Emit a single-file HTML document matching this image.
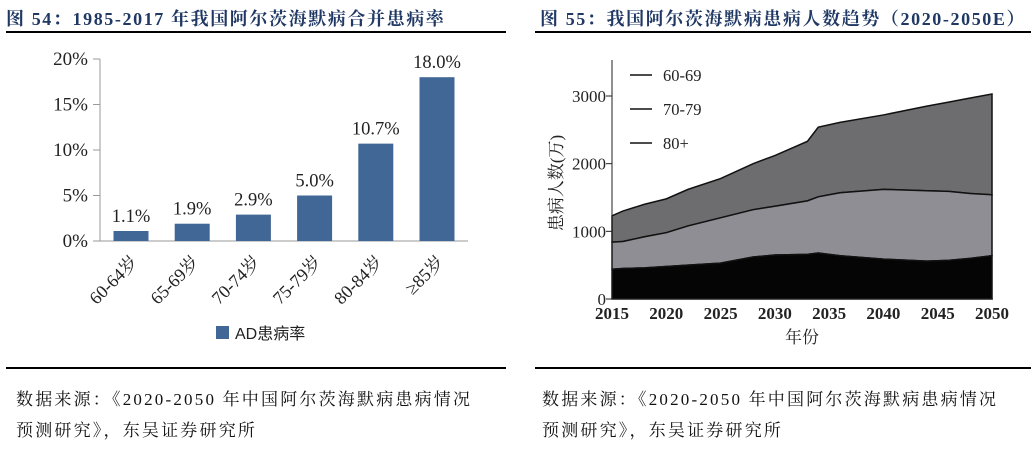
<!DOCTYPE html>
<html><head><meta charset="utf-8"><style>
body{margin:0;width:1036px;height:452px;background:#fff;overflow:hidden;position:relative;font-family:"Liberation Serif","Noto Serif CJK SC",serif}
.t{position:absolute;font-weight:bold;color:#1f3864;font-size:18px;top:5px;white-space:nowrap;letter-spacing:1.6px}
.rule{position:absolute;height:2px;background:#000}
.src{position:absolute;font-size:17px;color:#111;line-height:31px;letter-spacing:2.2px;white-space:nowrap;font-family:"Liberation Serif","Noto Serif CJK SC",serif}
svg{position:absolute;left:0;top:0}
</style></head><body>
<div class="t" style="left:6px">图 54：1985-2017 年我国阿尔茨海默病合并患病率</div>
<div class="t" style="left:540px">图 55：我国阿尔茨海默病患病人数趋势（2020-2050E）</div>
<div class="rule" style="left:6px;top:31px;width:500px"></div>
<div class="rule" style="left:535px;top:31px;width:496px"></div>
<div class="rule" style="left:6px;top:367px;width:500px"></div>
<div class="rule" style="left:535px;top:367px;width:496px"></div>
<div class="src" style="left:16px;top:384px">数据来源：《2020-2050 年中国阿尔茨海默病患病情况<br>预测研究》，东吴证券研究所</div>
<div class="src" style="left:542px;top:384px">数据来源：《2020-2050 年中国阿尔茨海默病患病情况<br>预测研究》，东吴证券研究所</div>
<svg width="1036" height="452" id="svg"></svg>
<script>
const barCats=["60-64岁","65-69岁","70-74岁","75-79岁","80-84岁","≥85岁"];
const barVals=[1.1,1.9,2.9,5.0,10.7,18.0];
const barTicks=[0,5,10,15,20];
const years=[2015,2016,2018,2020,2022,2025,2028,2030,2033,2034,2036,2040,2044,2046,2048,2050];
const s80=[440,450,460,480,500,530,620,650,660,680,640,590,560,570,600,640];
const s70=[400,400,460,500,580,670,700,720,790,830,930,1030,1040,1020,960,900];
const s60=[390,450,480,500,540,580,680,750,880,1030,1040,1100,1250,1320,1410,1490];
const areaTicks=[0,1000,2000,3000];
const xTicks=[2015,2020,2025,2030,2035,2040,2045,2050];
const legendLabels=["60-69","70-79","80+"];
const NS="http://www.w3.org/2000/svg";const svg=document.getElementById('svg');
function mk(t,a,txt){const e=document.createElementNS(NS,t);for(const k in a)e.setAttribute(k,a[k]);if(txt!=null)e.textContent=txt;svg.appendChild(e);return e;}
// bar chart
const by=v=>241-v/20*182, bx=i=>131+i*61.2;
let e=mk('line',{x1:100,y1:59,x2:100,y2:241,stroke:'#999'});
e=mk('line',{x1:93,y1:241,x2:468,y2:241,stroke:'#999'});
barTicks.forEach(t=>{mk('line',{x1:93,y1:by(t),x2:100,y2:by(t),stroke:'#999'});
e=mk('text',{x:88,y:by(t)+6,'text-anchor':'end','font-size':19,fill:'#222'},t+'%');});
barVals.forEach((v,i)=>{e=mk('rect',{x:bx(i)-17.5,y:by(v),width:35,height:241-by(v),fill:'#416796'});
e=mk('text',{x:bx(i),y:by(v)-9,'text-anchor':'middle','font-size':18.5,fill:'#222'},v.toFixed(1)+'%');
e=mk('text',{x:0,y:0,'text-anchor':'end','font-size':18,fill:'#222',transform:`translate(${bx(i)+8},${263}) rotate(-45)`},barCats[i]);});
e=mk('rect',{x:216,y:326,width:13,height:13,fill:'#416796'});
e=mk('text',{x:235,y:339,'font-size':16,fill:'#222','font-family':'Liberation Sans,Noto Sans CJK SC,sans-serif'},'AD患病率');
// area chart
const ax=y=>612+(y-2015)/35*380, ay=v=>299-v/3000*203;
const c1=s80, c2=s80.map((v,i)=>v+s70[i]), c3=c2.map((v,i)=>v+s60[i]);
function area(top,bot,fill,name){let d='M'+years.map((y,i)=>ax(y)+','+ay(top[i])).join('L');
for(let i=years.length-1;i>=0;i--)d+='L'+ax(years[i])+','+ay(bot[i]);d+='Z';
e=mk('path',{d:d,fill:fill,stroke:'#111','stroke-width':1.5});}
const zero=years.map(()=>0);
area(c3,c2,'#6d6d70','area-60-69');area(c2,c1,'#8f8e94','area-70-79');area(c1,zero,'#050505','area-80plus');
e=mk('line',{x1:612,y1:60,x2:612,y2:299,stroke:'#222'});
e=mk('line',{x1:612,y1:299,x2:993,y2:299,stroke:'#222'});
areaTicks.forEach(t=>{mk('line',{x1:606,y1:ay(t),x2:612,y2:ay(t),stroke:'#222'});
e=mk('text',{x:606,y:ay(t)+6,'text-anchor':'end','font-size':17,fill:'#222'},t);});
xTicks.forEach(t=>{e=mk('text',{x:ax(t),y:319,'text-anchor':'middle','font-size':17,'font-weight':'bold',fill:'#222'},t);});
e=mk('text',{x:802,y:343,'text-anchor':'middle','font-size':17,fill:'#222'},'年份');
e=mk('text',{x:0,y:0,'text-anchor':'middle','font-size':17,fill:'#222',transform:'translate(562,183) rotate(-90)'},'患病人数(万)');
legendLabels.forEach((l,i)=>{const y=75+i*34;mk('line',{x1:630,y1:y,x2:652,y2:y,stroke:'#111','stroke-width':1.5});
e=mk('text',{x:663,y:y+6,'font-size':16.5,fill:'#222'},l);});
</script>
</body></html>
